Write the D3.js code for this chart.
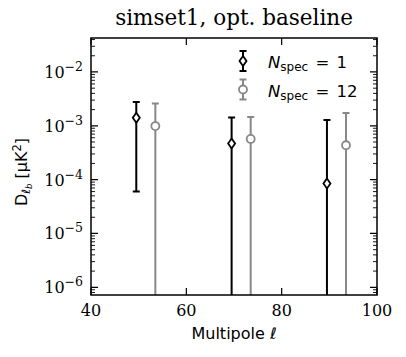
<!DOCTYPE html>
<html>
<head>
<meta charset="utf-8">
<script src="https://cdn.jsdelivr.net/npm/d3@7"></script>
<style>
    body { margin: 0; background: #fff; }
    svg { display: block; }
</style>
</head>
<body>
<div id="chart"></div>
<script>
// values
const ellNspec1 = [49.5, 69.5, 89.5];
const dlNspec1 = [1.41e-3, 4.7e-4, 8.5e-5];
const errNspec1 = [1.35e-3, 9.5e-4, 1.2e-3];

const ellNspec12 = [53.5, 73.5, 93.5];
const dlNspec12 = [9.9e-4, 5.7e-4, 4.35e-4];
const errNspec12 = [1.6e-3, 8.9e-4, 1.3e-3];

const xTicks = [40, 60, 80, 100];
const yTickExps = [-6, -5, -4, -3, -2];
const legendLabels = ['1', '12'];

let width = 406,
    height = 357,
    plot = { left: 91, right: 377, top: 38, bottom: 295 },
    serif = 'DejaVu Serif',
    sans = 'DejaVu Sans',
    black = '#000',
    grey = '#888',
    svg,
    frameG,
    dataG,
    x,
    y;

svg = d3.select('#chart')
    .append('svg')
        .attr('width', width)
        .attr('height', height);

x = d3.scaleLinear()
    .domain([40, 100])
    .range([plot.left, plot.right]);

y = d3.scaleLog()
    .domain([Math.pow(10, -6.143), Math.pow(10, -1.369)])
    .range([plot.bottom, plot.top]);

svg.append('defs')
    .append('clipPath')
        .attr('id', 'plot-clip')
    .append('rect')
        .attr('x', plot.left)
        .attr('y', plot.top)
        .attr('width', plot.right - plot.left)
        .attr('height', plot.bottom - plot.top);

frameG = svg.append('g').attr('class', 'frame');

// ticks on all four sides, pointing inward
let minorVals = [];
for (let e = -7; e <= -1; e++) {
    for (let m = 2; m <= 9; m++) {
        let v = m * Math.pow(10, e);
        if (v > y.domain()[0] && v < y.domain()[1]) minorVals.push(v);
    }
}

frameG.selectAll('.ymajor')
    .data(yTickExps)
    .enter()
    .append('path')
        .attr('d', e => {
            let yy = y(Math.pow(10, e));
            return 'M' + plot.left + ',' + yy + 'h7M' + plot.right + ',' + yy + 'h-7';
        })
        .attr('stroke', black)
        .attr('stroke-width', 1.2);

frameG.selectAll('.yminor')
    .data(minorVals)
    .enter()
    .append('path')
        .attr('d', v => {
            let yy = y(v);
            return 'M' + plot.left + ',' + yy + 'h4M' + plot.right + ',' + yy + 'h-4';
        })
        .attr('stroke', black)
        .attr('stroke-width', 0.9);

frameG.selectAll('.xmajor')
    .data(xTicks)
    .enter()
    .append('path')
        .attr('d', t => {
            let xx = x(t);
            return 'M' + xx + ',' + plot.bottom + 'v-7M' + xx + ',' + plot.top + 'v7';
        })
        .attr('stroke', black)
        .attr('stroke-width', 1.2);

frameG.selectAll('.xlabel')
    .data(xTicks)
    .enter()
    .append('text')
        .text(d => d)
        .attr('x', d => x(d))
        .attr('y', plot.bottom + 21)
        .attr('text-anchor', 'middle')
        .style('font-family', serif)
        .style('font-size', '16px');

let yLabels = frameG.selectAll('.ylabel')
    .data(yTickExps)
    .enter()
    .append('text')
        .attr('x', plot.left - 8)
        .attr('y', e => y(Math.pow(10, e)) + 6)
        .attr('text-anchor', 'end')
        .style('font-family', serif)
        .style('font-size', '16px');

yLabels.append('tspan').text('10');
yLabels.append('tspan')
    .text(e => '\u2212' + Math.abs(e))
    .attr('dy', -7)
    .style('font-size', '12.5px');

// data
dataG = svg.append('g')
    .attr('class', 'data')
    .attr('clip-path', 'url(#plot-clip)');

function drawSeries (g, ells, vals, errs, color, marker) {
    let pts = ells.map((l, i) => ({ l: l, v: vals[i], e: errs[i] })),
        yMin = y.domain()[0];

    g.selectAll('.bar')
        .data(pts)
        .enter()
        .append('path')
            .attr('d', d => {
                let xx = x(d.l),
                    lo = d.v - d.e > yMin ? y(d.v - d.e) : plot.bottom + 5,
                    hi = y(d.v + d.e),
                    s = 'M' + xx + ',' + lo + 'V' + hi + 'M' + (xx - 3.5) + ',' + hi + 'h7';
                if (d.v - d.e > yMin) s += 'M' + (xx - 3.5) + ',' + lo + 'h7';
                return s;
            })
            .attr('fill', 'none')
            .attr('stroke', color)
            .attr('stroke-width', 2);

    g.selectAll('.mk')
        .data(pts)
        .enter()
        .append('path')
            .attr('transform', d => 'translate(' + x(d.l) + ',' + y(d.v) + ')')
            .attr('d', marker)
            .attr('fill', '#fff')
            .attr('stroke', color)
            .attr('stroke-width', 1.8);
}

const diamond = 'M0,-5L3.5,0L0,5L-3.5,0Z';
const circle = 'M4,0A4,4 0 1,1 -4,0A4,4 0 1,1 4,0Z';

drawSeries(dataG.append('g'), ellNspec1, dlNspec1, errNspec1, black, diamond);
drawSeries(dataG.append('g'), ellNspec12, dlNspec12, errNspec12, grey, circle);

// frame on top
svg.append('rect')
    .attr('x', plot.left)
    .attr('y', plot.top)
    .attr('width', plot.right - plot.left)
    .attr('height', plot.bottom - plot.top)
    .attr('fill', 'none')
    .attr('stroke', black)
    .attr('stroke-width', 1.5);

// legend
let legendG = svg.append('g').attr('class', 'legend');
let legendRows = legendLabels.map((lab, i) => ({
    lab: lab,
    color: i ? grey : black,
    marker: i ? circle : diamond,
    cy: 61 + i * 28.5
}));

legendRows.forEach(r => {
    let xx = 243;
    legendG.append('path')
        .attr('d', 'M' + xx + ',' + (r.cy - 10) + 'V' + (r.cy + 10) +
            'M' + (xx - 3.5) + ',' + (r.cy - 10) + 'h7M' + (xx - 3.5) + ',' + (r.cy + 10) + 'h7')
        .attr('stroke', r.color)
        .attr('stroke-width', 2)
        .attr('fill', 'none');
    legendG.append('path')
        .attr('transform', 'translate(' + xx + ',' + r.cy + ')')
        .attr('d', r.marker)
        .attr('fill', '#fff')
        .attr('stroke', r.color)
        .attr('stroke-width', 1.8);

    let t = legendG.append('text')
        .attr('x', 268)
        .attr('y', r.cy + 7)
        .style('font-family', sans)
        .style('font-size', '16.5px');
    t.append('tspan').text('N').style('font-style', 'italic');
    t.append('tspan').text('spec').attr('dy', 3).style('font-size', '12px');
    t.append('tspan').text(' = ' + r.lab).attr('dy', -3).style('word-spacing', '2px');
});

// title and axis labels
svg.append('text')
    .text('simset1, opt. baseline')
    .attr('x', (plot.left + plot.right) / 2)
    .attr('y', 25)
    .attr('text-anchor', 'middle')
    .style('font-family', serif)
    .style('font-size', '21.5px');

let xl = svg.append('text')
    .attr('x', (plot.left + plot.right) / 2)
    .attr('y', 339)
    .attr('text-anchor', 'middle')
    .style('font-family', sans)
    .style('font-size', '16px');
xl.append('tspan').text('Multipole ');
xl.append('tspan').text('\u2113').style('font-style', 'italic');

let yl = svg.append('text')
    .attr('transform', 'translate(27,' + 172 + ') rotate(-90)')
    .attr('text-anchor', 'middle')
    .style('font-family', sans)
    .style('font-size', '16px');
yl.append('tspan').text('D');
yl.append('tspan').text('\u2113').attr('dy', 3).style('font-size', '11.5px').style('font-style', 'italic');
yl.append('tspan').text('b').attr('dy', 2).style('font-size', '8.5px').style('font-style', 'italic');
yl.append('tspan').text(' [\u03bcK').attr('dy', -5);
yl.append('tspan').text('2').attr('dy', -6).style('font-size', '11.5px');
yl.append('tspan').text(']').attr('dy', 6);
</script>
</body>
</html>
